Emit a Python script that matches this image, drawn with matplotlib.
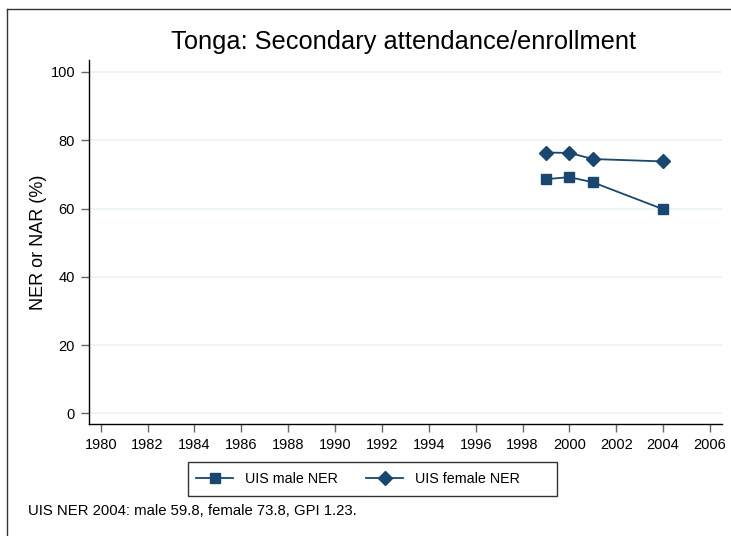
import matplotlib
matplotlib.use("Agg")
import matplotlib.pyplot as plt
from matplotlib.lines import Line2D
from matplotlib.patches import Rectangle

plt.rcParams['font.family'] = ['Liberation Sans', 'DejaVu Sans']

years = [1999, 2000, 2001, 2004]
male_ner = [68.6, 69.2, 67.7, 59.8]
female_ner = [76.4, 76.3, 74.5, 73.8]
x_ticks = list(range(1980, 2007, 2))
y_ticks = [0, 20, 40, 60, 80, 100]

navy = '#1a476f'
W, H = 731, 536

fig = plt.figure(figsize=(W / 100, H / 100), dpi=100)
ax = fig.add_axes([89 / W, 1 - 423.7 / H, (721.7 - 89) / W, (423.7 - 60) / H])

# outer frame of the graph region (only left and top are visible)
fx, fy = 6.5 / W, 1 - 9 / H
fig.lines.append(Line2D([fx, fx], [0, fy], transform=fig.transFigure,
                        color='#333333', linewidth=1.0))
fig.lines.append(Line2D([fx, 1.0], [fy, fy], transform=fig.transFigure,
                        color='#333333', linewidth=1.0))

ax.plot(years, male_ner, color=navy, marker='s', markersize=7, linewidth=1.3,
        label='UIS male NER')
ax.plot(years, female_ner, color=navy, marker='D', markersize=7.5, linewidth=1.3,
        label='UIS female NER')

ax.set_xlim(1979.5, 2006.5)
ax.set_ylim(-3, 103.5)
ax.set_xticks(x_ticks)
ax.set_yticks(y_ticks)
for y in y_ticks:
    ax.axhline(y, color='#eaf2f3', linewidth=1.2, zorder=0)

ax.spines['top'].set_visible(False)
ax.spines['right'].set_visible(False)
ax.spines['left'].set_linewidth(1.0)
ax.spines['bottom'].set_linewidth(1.0)
ax.tick_params(axis='both', direction='out', length=6, width=1.0,
               color='#666666', labelsize=10.5, pad=4)

ax.set_ylabel('NER or NAR (%)', fontsize=13)
ax.yaxis.set_label_coords((47 - 89) / (721.7 - 89), 0.5)
fig.text(404 / W, 1 - 42 / H, 'Tonga: Secondary attendance/enrollment',
         ha='center', va='center', fontsize=18.3)

# legend box drawn separately, wider on the right like the original
fig.patches.append(Rectangle((188 / W, 1 - 496 / H), (557 - 188) / W, 34 / H,
                             transform=fig.transFigure, fill=False,
                             edgecolor='#333333', linewidth=1.0))
leg = fig.legend(loc='center left', bbox_to_anchor=(179 / W, 1 - 479 / H), ncol=2,
                 frameon=False, fontsize=10.3, handlelength=2.6, columnspacing=2.0,
                 handletextpad=0.8, borderpad=0.7)

fig.text(28 / W, 1 - 511 / H, 'UIS NER 2004: male 59.8, female 73.8, GPI 1.23.',
         ha='left', va='center', fontsize=10.7)

fig.savefig('out.png', dpi=100)
